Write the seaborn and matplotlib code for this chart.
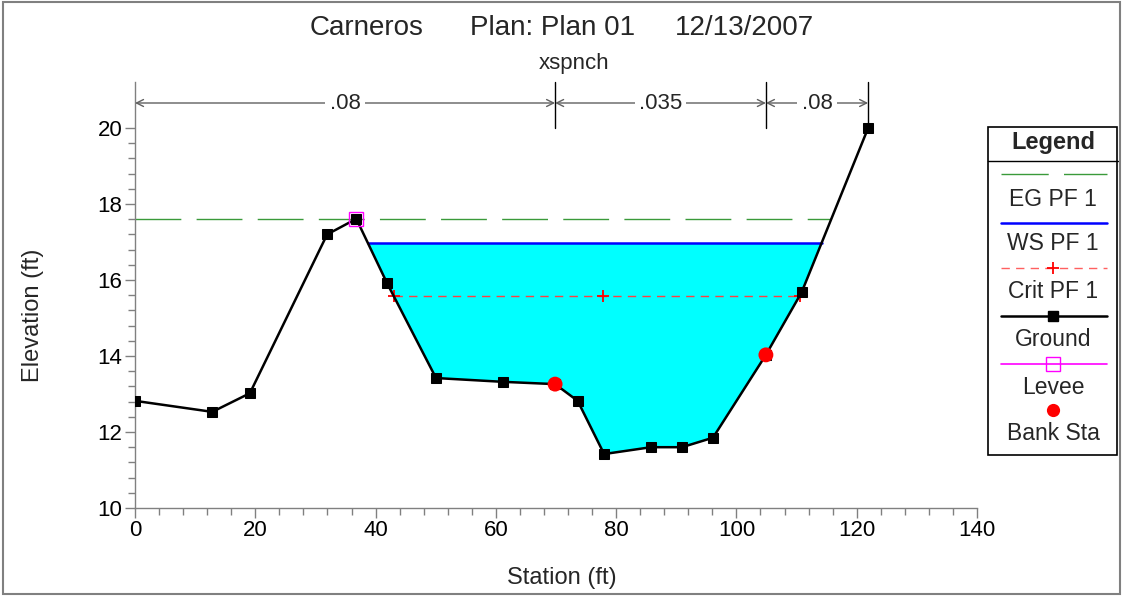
import numpy as np
import matplotlib
matplotlib.use("Agg")
import matplotlib.pyplot as plt
from matplotlib.patches import Rectangle
import seaborn as sns

# ---------------- data ----------------
station = [0.0, 12.85, 19.1, 31.95, 36.8, 41.9, 50.05, 61.2, 69.85, 73.6,
           78.0, 85.8, 90.95, 96.1, 104.9, 110.85, 121.9]
ground = [12.82, 12.53, 13.02, 17.20, 17.61, 15.92, 13.42, 13.32, 13.26, 12.82,
          11.42, 11.60, 11.60, 11.85, 14.03, 15.68, 20.0]

bank_station = [69.85, 104.9]
bank_elev = [13.26, 14.03]

levee_station = [36.8]
levee_elev = [17.61]

eg_station = [0.0, 115.7]
eg_elev = 17.60
ws_station = [38.7, 114.2]
ws_elev = 16.98
crit_station = [43.1, 77.8, 110.6]
crit_elev = 15.58

n_bounds = [0.0, 69.85, 104.9, 121.9]
n_values = [".08", ".035", ".08"]

title_parts = ["Carneros", "Plan: Plan 01", "12/13/2007"]
subtitle = "xspnch"
legend_labels = ["EG PF 1", "WS PF 1", "Crit PF 1", "Ground", "Levee", "Bank Sta"]

# ---------------- style ----------------
sns.set_style("white")
plt.rcParams['font.family'] = ['Liberation Sans', 'DejaVu Sans']

W, H = 1123, 598
fig = plt.figure(figsize=(W / 100, H / 100), dpi=100)
fig.patch.set_facecolor("white")

def fx(px):
    return px / W

def fy(py):
    return 1 - py / H

ax = fig.add_axes([fx(135), fy(508), fx(977) - fx(135), fy(82) - fy(508)])
ax.set_facecolor("white")

x = np.array(station)
y = np.array(ground)

# water fill
mask = (y < ws_elev) & (x > levee_station[0])
ax.fill_between(x, y, ws_elev, where=mask, interpolate=True,
                color="#00ffff", linewidth=0, zorder=1)

# EG line
ax.plot(eg_station, [eg_elev] * 2, color="#3a9a3a", linewidth=1.0,
        dashes=(33, 11), zorder=2)
# WS line
ax.plot(ws_station, [ws_elev] * 2, color="#0000ff", linewidth=1.8, zorder=3)
# Crit line
ax.plot(crit_station, [crit_elev] * len(crit_station), color="#ff4040",
        linewidth=1.0, dashes=(6, 4.5), zorder=3)
ax.plot(crit_station, [crit_elev] * len(crit_station), linestyle="none",
        marker="+", markersize=9, markeredgewidth=1.3,
        markeredgecolor="#ff0000", zorder=3)

# Ground
sns.lineplot(x=station, y=ground, ax=ax, color="black", linewidth=1.8,
             marker="s", markersize=7, markeredgecolor="black",
             sort=False, estimator=None, zorder=4, legend=False)

# Levee
ax.plot(levee_station, levee_elev, linestyle="none", marker="s", markersize=9.5,
        markerfacecolor="none", markeredgecolor="#ff00ff", markeredgewidth=1.0,
        zorder=5)

# Bank stations
sns.scatterplot(x=bank_station, y=bank_elev, ax=ax, color="#ff0000", s=115,
                edgecolor="none", linewidth=0, zorder=6, legend=False)

# ---------------- axes ----------------
ax.set_xlim(0, 140)
ax.set_ylim(10, 10 + (508 - 82) / 38)
ax.set_xticks(np.arange(0, 141, 20))
ax.set_xticks(np.arange(0, 141, 4), minor=True)
ax.set_yticks(np.arange(10, 21, 2))
ax.set_yticks(np.arange(10, 20.01, 0.4), minor=True)
for s in ["top", "right"]:
    ax.spines[s].set_visible(False)
for s in ["left", "bottom"]:
    ax.spines[s].set_color("#808080")
    ax.spines[s].set_linewidth(1.0)
ax.tick_params(axis="both", which="major", direction="out", length=7,
               width=1.0, color="#808080", labelsize=16, labelcolor="black",
               pad=2, left=True, bottom=True)
ax.tick_params(axis="both", which="minor", direction="out", length=5,
               width=1.0, color="#808080", left=True, bottom=True)

fig.text(fx(562), fy(578), "Station (ft)", ha="center", va="center", fontsize=17)
fig.text(fx(33), fy(315), "Elevation (ft)", ha="center", va="center",
         fontsize=17, rotation=90)

# ---------------- n-values ----------------
n_y = 10 + (508 - 103) / 38
top = ax.get_ylim()[1]
for b in n_bounds[1:-1]:
    ax.plot([b, b], [20.0, top], color="black", linewidth=1.0, clip_on=False,
            zorder=3)
ax.plot([n_bounds[-1]] * 2, [ground[-1], top], color="black", linewidth=1.0,
        clip_on=False, zorder=3)
for i, lab in enumerate(n_values):
    a, b = n_bounds[i], n_bounds[i + 1]
    ax.annotate("", xy=(a, n_y), xytext=(b, n_y),
                arrowprops=dict(arrowstyle="<->,head_length=0.5,head_width=0.25",
                                color="#606060", lw=1.0, shrinkA=0, shrinkB=0),
                annotation_clip=False)
    ax.text((a + b) / 2, n_y, lab, ha="center", va="center", fontsize=16,
            bbox=dict(facecolor="white", edgecolor="none", pad=3), zorder=4)

# ---------------- titles ----------------
for px, t in zip([310, 470, 675], title_parts):
    fig.text(fx(px), fy(28), t, ha="left", va="center", fontsize=20)
fig.text(fx(574), fy(64), subtitle, ha="center", va="center", fontsize=16)

# ---------------- legend ----------------
lax = fig.add_axes([fx(988), fy(455), fx(1117) - fx(988), fy(127) - fy(455)])
lax.set_xlim(988, 1117)
lax.set_ylim(455, 127)
lax.axis("off")
lax.add_patch(Rectangle((988, 127), 129, 328, facecolor="white",
                        edgecolor="black", linewidth=1.2, clip_on=False))
lax.plot([988, 1118], [161, 161], color="black", linewidth=1.0, clip_on=False)
lax.text(1053, 143, "Legend", ha="center", va="center", fontsize=17,
         fontweight="bold")
xs = [1001, 1107]
cx = 1053
lax.plot(xs, [174, 174], color="#3a9a3a", linewidth=1.0, dashes=(34, 11))
lax.plot(xs, [223, 223], color="#0000ff", linewidth=1.8)
lax.plot(xs, [268, 268], color="#ff6060", linewidth=1.0, dashes=(6, 4.5))
lax.plot([cx], [268], marker="+", color="#ff0000", markersize=9,
         markeredgewidth=1.3)
lax.plot(xs, [316, 316], color="black", linewidth=1.8)
lax.plot([cx], [316], marker="s", color="black", markersize=7)
lax.plot(xs, [364, 364], color="#ff00ff", linewidth=1.2)
lax.plot([cx], [364], marker="s", markersize=9.5, markerfacecolor="none",
         markeredgecolor="#ff00ff", markeredgewidth=1.0)
lax.plot([cx], [410], marker="o", color="#ff0000", markersize=9.5,
         markeredgewidth=0)
for ty, lab in zip([199, 244, 292, 339, 388, 434], legend_labels):
    lax.text(cx, ty, lab, ha="center", va="center", fontsize=16.5)

# outer border
fig.add_artist(Rectangle((fx(3), fy(594)), fx(1120) - fx(3), fy(2) - fy(594),
                         transform=fig.transFigure, facecolor="none",
                         edgecolor="#808080", linewidth=1.5))

fig.savefig("out.png", dpi=100)
